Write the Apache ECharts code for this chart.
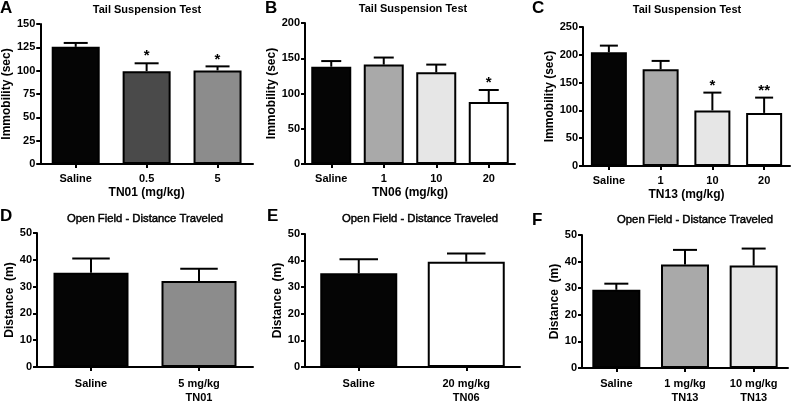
<!DOCTYPE html>
<html><head><meta charset="utf-8">
<script src="https://cdn.jsdelivr.net/npm/echarts@6/dist/echarts.min.js"></script>
<style>html,body{margin:0;padding:0;background:#fff}#c{width:795px;height:405px}</style>
</head><body><div id="c"></div>
<script>
// ---- Data ----
const catsA = ['Saline', '0.5', '5'];
const meanA = [125.5, 99.5, 100.3];
const semA  = [4.2, 8.4, 4.3];
const sigA  = ['', '*', '*'];

const catsB = ['Saline', '1', '10', '20'];
const meanB = [138, 141, 130, 88];
const semB  = [8, 10, 11, 17];
const sigB  = ['', '', '', '*'];

const catsC = ['Saline', '1', '10', '20'];
const meanC = [204.5, 174, 100, 95.5];
const semC  = [12, 15, 32, 27.5];
const sigC  = ['', '', '*', '**'];

const catsD = ['Saline', '5 mg/kg\nTN01'];
const meanD = [35.2, 32.1];
const semD  = [5.3, 4.6];

const catsE = ['Saline', '20 mg/kg\nTN06'];
const meanE = [35.2, 39.6];
const semE  = [5.3, 3.1];

const catsF = ['Saline', '1 mg/kg\nTN13', '10 mg/kg\nTN13'];
const meanF = [29.4, 38.9, 38.5];
const semF  = [2.3, 5.5, 6.4];

const yTicksA = [0, 150, 25];
const yTicksB = [0, 200, 50];
const yTicksC = [0, 250, 50];
const yTicksD = [0, 50, 10];

// ---- Styles ----
const FONT = 'Liberation Sans, Arial, Helvetica, sans-serif';
const fillsA = ['#050505', '#4a4a4a', '#8c8c8c'];
const fillsB = ['#050505', '#a9a9a9', '#e6e6e6', '#ffffff'];
const fillsD = ['#050505', '#8c8c8c'];
const fillsE = ['#050505', '#ffffff'];
const fillsF = ['#050505', '#a9a9a9', '#e6e6e6'];

const panels = [
  {cats: catsA, mean: meanA, sem: semA, sig: sigA, fills: fillsA, y: yTicksA, grid: {left: 37, top: 24, width: 216, height: 140}, bw: 48, yname: 'Immobility (sec)', xname: 'TN01 (mg/kg)', nameGap: 25, lm: 8},
  {cats: catsB, mean: meanB, sem: semB, sig: sigB, fills: fillsB, y: yTicksB, grid: {left: 305, top: 23, width: 210, height: 141}, bw: 40, yname: 'Immobility (sec)', xname: 'TN06 (mg/kg)', nameGap: 24, lm: 8},
  {cats: catsC, mean: meanC, sem: semC, sig: sigC, fills: fillsB, y: yTicksC, grid: {left: 583, top: 27, width: 207, height: 139}, bw: 36, yname: 'Immobility (sec)', xname: 'TN13 (mg/kg)', nameGap: 23, lm: 8},
  {cats: catsD, mean: meanD, sem: semD, sig: null, fills: fillsD, y: yTicksD, grid: {left: 37, top: 233, width: 216, height: 140}, bw: 75, yname: 'Distance  (m)', xname: '', nameGap: 21, lm: 10},
  {cats: catsE, mean: meanE, sem: semE, sig: null, fills: fillsE, y: yTicksD, grid: {left: 305, top: 234, width: 215, height: 140}, bw: 77, yname: 'Distance  (m)', xname: '', nameGap: 21, lm: 10},
  {cats: catsF, mean: meanF, sem: semF, sig: null, fills: fillsF, y: yTicksD, grid: {left: 582, top: 235, width: 206, height: 139}, bw: 48, yname: 'Distance  (m)', xname: '', nameGap: 20, lm: 9}
];

const titles = [
  {text: 'A', left: 0, top: 0}, {text: 'B', left: 265, top: 0}, {text: 'C', left: 532, top: 0},
  {text: 'D', left: 0, top: 208}, {text: 'E', left: 267, top: 208}, {text: 'F', left: 532, top: 212}
].map(t => ({text: t.text, left: t.left, top: t.top, padding: 0, textStyle: {fontFamily: FONT, fontSize: 17, fontWeight: 'bold', color: '#000'}}));

const heads = [
  {text: 'Tail Suspension Test', x: 147, y: 4, bold: true},
  {text: 'Tail Suspension Test', x: 413, y: 3, bold: true},
  {text: 'Tail Suspension Test', x: 687, y: 4, bold: true},
  {text: 'Open Field - Distance Traveled', x: 145, y: 213, bold: false},
  {text: 'Open Field - Distance Traveled', x: 420, y: 213, bold: false},
  {text: 'Open Field - Distance Traveled', x: 695, y: 214, bold: false}
];
heads.forEach(h => titles.push({text: h.text, left: h.x, top: h.y, textAlign: 'center', padding: 0,
  textStyle: h.bold
    ? {fontFamily: FONT, fontSize: 11, fontWeight: 'bold', color: '#000'}
    : {fontFamily: FONT, fontSize: 11.3, fontWeight: 'normal', color: '#000', textBorderColor: '#000', textBorderWidth: 0.45}}));

const grids = [], xAxes = [], yAxes = [], series = [];
const axisLine = {show: true, lineStyle: {color: '#000', width: 2}};
const axisTick = {show: true, inside: false, length: 4, lineStyle: {color: '#000', width: 2}};

panels.forEach((p, i) => {
  grids.push(Object.assign({containLabel: false}, p.grid));
  xAxes.push({type: 'category', gridIndex: i, data: p.cats,
    axisLine: axisLine, axisTick: Object.assign({alignWithLabel: true}, axisTick),
    axisLabel: {fontFamily: FONT, fontSize: 11, fontWeight: 'bold', color: '#000', margin: p.lm, lineHeight: 14, interval: 0},
    name: p.xname, nameLocation: 'middle', nameGap: 23,
    nameTextStyle: {fontFamily: FONT, fontSize: 12, fontWeight: 'bold', color: '#000'}});
  yAxes.push({type: 'value', gridIndex: i, min: p.y[0], max: p.y[1], interval: p.y[2],
    axisLine: axisLine, axisTick: axisTick, splitLine: {show: false},
    axisLabel: {fontFamily: FONT, fontSize: 11, fontWeight: 'bold', color: '#000', margin: 5},
    name: p.yname, nameLocation: 'middle', nameGap: p.nameGap, nameRotate: 90,
    nameTextStyle: {fontFamily: FONT, fontSize: 12, fontWeight: 'bold', color: '#000'}});
  series.push({type: 'bar', xAxisIndex: i, yAxisIndex: i, barWidth: p.bw, silent: true,
    data: p.mean.map((v, k) => ({value: v, itemStyle: {color: p.fills[k], borderColor: '#000', borderWidth: 2}})),
    z: 2});
  const capHalf = p.bw * 0.25;
  series.push({type: 'custom', xAxisIndex: i, yAxisIndex: i, silent: true, z: 3,
    data: p.mean.map((v, k) => [k, v, p.sem[k]]),
    renderItem: function (params, api) {
      const k = api.value(0), m = api.value(1), e = api.value(2);
      const base = api.coord([k, m]);
      const top = api.coord([k, m + e]);
      const children = [
        {type: 'line', shape: {x1: base[0], y1: base[1], x2: top[0], y2: top[1]}, style: {stroke: '#000', lineWidth: 2}},
        {type: 'line', shape: {x1: top[0] - capHalf, y1: top[1], x2: top[0] + capHalf, y2: top[1]}, style: {stroke: '#000', lineWidth: 2}}
      ];
      const s = p.sig ? p.sig[k] : '';
      if (s) {
        children.push({type: 'text', style: {text: s, x: top[0], y: top[1] - 7, textAlign: 'center', textVerticalAlign: 'middle',
          font: 'bold 15px ' + FONT, fill: '#000'}});
      }
      return {type: 'group', children: children};
    }});
});

const chart = echarts.init(document.getElementById('c'), null, {renderer: 'canvas'});
chart.setOption({animation: false, backgroundColor: '#fff', title: titles, grid: grids, xAxis: xAxes, yAxis: yAxes, series: series});
</script>
</body></html>
